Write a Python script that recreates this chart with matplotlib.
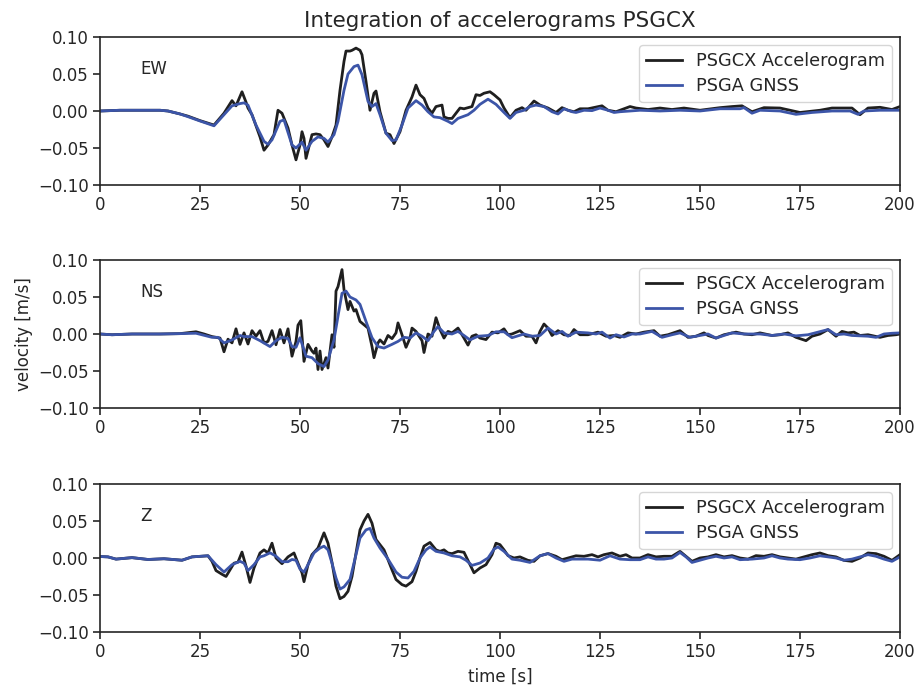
import matplotlib
matplotlib.use("Agg")
import matplotlib.pyplot as plt

# ---------------- data (velocity in m/s, time in s) ----------------
ew_acc_t = [0, 5, 10, 15, 17, 20, 22, 25, 28.5, 31, 33, 34, 35.5, 36.5, 37, 38, 40, 41, 42, 43.5,
            44.5, 45.5, 47, 48, 49, 50, 50.5, 51, 51.5, 53, 54, 55, 56, 57, 58, 59, 60, 61, 61.5,
            62.5, 63, 64, 65, 65.5, 66.5, 67.5, 68.5, 69, 70, 71.5, 72.5, 73.5, 75, 76.5, 78, 79,
            80, 81, 82, 83, 84, 85.5, 86, 87, 88, 89, 90, 91, 92, 93, 94, 95, 96, 97.5, 98.5, 100,
            101, 102.5, 104, 105.5, 106.5, 108.5, 110, 112, 114, 115.5, 117, 118.5, 120, 122,
            125.5, 127, 129, 131, 132.5, 134, 137, 140, 143, 146, 150, 155, 158, 160.5, 163, 166,
            170, 175, 180, 183, 188, 190, 192, 195, 198, 200]
ew_acc_v = [0.0, 0.001, 0.001, 0.001, 0.0, -0.004, -0.007, -0.013, -0.019, -0.003, 0.014, 0.007,
            0.026, 0.012, 0.004, -0.005, -0.035, -0.053, -0.046, -0.032, 0.001, -0.003, -0.023,
            -0.046, -0.066, -0.046, -0.028, -0.037, -0.064, -0.032, -0.031, -0.032, -0.039, -0.048,
            -0.035, -0.019, 0.028, 0.067, 0.081, 0.081, 0.082, 0.085, 0.082, 0.076, 0.040, 0.001,
            0.024, 0.027, -0.001, -0.030, -0.032, -0.044, -0.028, 0.001, 0.019, 0.035, 0.022,
            0.017, 0.004, -0.003, 0.006, 0.008, -0.008, -0.010, -0.010, -0.003, 0.004, 0.003,
            0.0045, 0.006, 0.022, 0.021, 0.024, 0.026, 0.022, 0.015, 0.004, -0.009, 0.001, 0.0045,
            0.001, 0.0135, 0.008, 0.004, -0.002, 0.0045, 0.001, -0.001, 0.003, 0.003, 0.007, 0.001,
            -0.001, 0.003, 0.006, 0.004, 0.002, 0.004, 0.002, 0.004, 0.001, 0.0045, 0.006, 0.007,
            -0.001, 0.0045, 0.004, -0.002, 0.001, 0.004, 0.004, -0.005, 0.004, 0.005, 0.002, 0.006]

ew_gnss_t = [0, 5, 10, 15, 17, 20, 22, 25, 28.5, 31, 33, 35, 36, 37, 39, 41, 42, 43, 45, 46, 48,
             49, 50.5, 51.5, 53, 54.5, 56, 57, 58.5, 59.5, 61, 62, 63.5, 64.5, 65.5, 67, 68, 69,
             70, 71.5, 73, 74, 75.5, 77, 79, 80.5, 82, 83.5, 85, 87, 88, 89.5, 92, 93.5, 95, 97,
             99, 101, 102.5, 104, 106, 107.5, 109, 111, 113, 114.5, 116, 118, 119, 121, 123, 125,
             127, 128.5, 130, 135, 140, 145, 150, 155, 160, 161, 163, 165, 170, 174, 178, 183,
             187.5, 189.5, 191, 195, 200]
ew_gnss_v = [0.0, 0.001, 0.001, 0.001, 0.0, -0.004, -0.0077, -0.0135, -0.020, -0.005, 0.007, 0.010,
             0.011, 0.008, -0.019, -0.041, -0.045, -0.039, -0.014, -0.012, -0.046, -0.050, -0.042,
             -0.053, -0.041, -0.035, -0.037, -0.042, -0.032, -0.014, 0.028, 0.050, 0.060, 0.062,
             0.049, 0.013, 0.006, 0.010, -0.005, -0.030, -0.040, -0.039, -0.019, 0.004, 0.014,
             0.008, -0.001, -0.008, -0.009, -0.014, -0.017, -0.010, -0.005, 0.001, 0.009, 0.016,
             0.009, -0.002, -0.010, -0.002, 0.001, 0.006, 0.008, 0.006, -0.001, -0.004, 0.003,
             -0.001, -0.002, 0.001, 0.0005, 0.004, 0.001, -0.002, -0.001, 0.001, 0.0, 0.001, 0.0,
             0.003, 0.003, 0.0045, -0.003, 0.001, 0.0, -0.0045, -0.002, 0.0, 0.0, -0.0045, 0.0,
             0.001, 0.001]

ns_acc_t = [0, 3, 8, 15, 20, 24, 26, 28, 30, 31, 32, 33, 34, 35, 36, 37, 38, 39, 40, 41, 42, 43,
            44, 45, 46, 47, 48, 49, 49.5, 50.2, 51, 52, 53, 53.5, 54, 54.5, 55, 55.5, 56.5, 57, 58,
            58.5, 59, 59.5, 60.5, 61, 62, 62.5, 63.5, 64, 65, 66, 67, 68, 68.5, 69.5, 70, 71, 72,
            73, 74, 74.5, 75.5, 76.5, 77.5, 78, 79, 80.5, 81, 82, 83, 84, 85, 86, 87, 88, 89.5,
            91, 92, 93, 94, 95, 96.5, 98, 99.5, 101, 102, 103, 105, 106.5, 108, 109, 110, 111,
            112, 113, 114.5, 116, 117.5, 118.5, 120, 122, 124.5, 126.5, 128.5, 130, 132, 134, 136,
            138.5, 140, 142, 145, 147, 149, 151, 152, 154, 156, 159, 161, 163, 165, 168, 170, 172,
            174, 176.5, 178, 180, 182, 184, 185.5, 187, 188.5, 190, 192, 195, 197, 199, 200]
ns_acc_v = [0.0, -0.001, 0.0, 0.0, 0.0005, 0.003, 0.0, -0.0035, -0.0055, -0.024, -0.007, -0.012,
            0.007, -0.014, 0.0015, -0.0135, 0.0045, -0.003, 0.0045, -0.012, -0.010, 0.0045,
            -0.0145, 0.006, -0.012, 0.007, -0.030, -0.010, 0.012, 0.018, -0.037, -0.014, -0.023,
            -0.026, -0.019, -0.048, -0.023, -0.048, -0.032, -0.046, -0.001, -0.018, 0.058, 0.064,
            0.087, 0.060, 0.033, 0.044, 0.031, 0.033, 0.017, 0.0125, 0.008, -0.017, -0.032,
            -0.012, -0.008, -0.0135, -0.002, -0.0063, 0.0015, 0.015, -0.001, -0.018, -0.0055,
            0.008, 0.0035, -0.009, -0.025, 0.0, -0.003, 0.022, 0.006, -0.0055, 0.0035, 0.0015,
            0.008, -0.0055, -0.015, -0.003, -0.001, -0.0055, -0.0075, 0.0025, 0.0015, 0.007,
            -0.001, 0.0, 0.0045, -0.003, -0.003, -0.012, 0.0035, 0.0135, 0.008, -0.002, 0.0045,
            -0.001, -0.002, 0.006, -0.001, -0.001, 0.0025, -0.003, -0.002, -0.0045, 0.0015, 0.0,
            0.0025, 0.0045, -0.003, -0.001, 0.0045, -0.0045, -0.003, 0.0015, -0.002, -0.0055,
            -0.001, 0.0025, 0.0, -0.001, 0.0015, -0.002, -0.001, 0.0015, -0.0045, -0.009, -0.003,
            0.0, 0.006, -0.003, 0.0035, 0.0015, 0.0025, -0.002, -0.001, -0.0045, -0.002, -0.001,
            0.0]

ns_gnss_t = [0, 3, 8, 15, 20, 24, 28, 29.5, 31, 33, 35, 36, 38, 40, 42.5, 44, 45.5, 47, 48, 49,
             50, 51.5, 53, 54.5, 56, 57, 58.5, 59.5, 60.5, 61.5, 62.5, 64, 65, 66.5, 68, 69.5, 71,
             73, 74.5, 76, 77.5, 79, 80.5, 82, 83.5, 84.5, 86, 88, 89.5, 91, 92.5, 94.5, 97, 99,
             101, 103, 106, 108, 110, 112, 114, 115.5, 117, 119, 122, 124, 125.5, 127.5, 129, 131,
             133, 135, 138, 140.5, 143, 145, 147.5, 150, 152, 154, 156, 158, 161, 165, 168, 171,
             174, 177, 179.5, 182, 184, 186, 188, 190, 192, 194, 196, 198, 200]
ns_gnss_v = [0.0, -0.001, 0.0, 0.0, 0.0005, 0.001, -0.0045, -0.0045, -0.012, -0.008, -0.002,
             -0.0035, -0.0035, -0.009, -0.017, -0.009, -0.0045, -0.006, -0.017, -0.018, -0.005,
             -0.030, -0.032, -0.040, -0.044, -0.035, -0.008, 0.024, 0.055, 0.058, 0.050, 0.046,
             0.040, 0.017, -0.005, -0.017, -0.019, -0.014, -0.010, -0.0045, -0.0055, 0.0015,
             -0.003, -0.009, 0.0035, 0.010, 0.0015, 0.0, 0.0035, -0.002, -0.008, -0.003, -0.002,
             0.003, 0.003, -0.005, 0.0, -0.003, -0.002, 0.008, 0.0, 0.0035, -0.003, 0.0025, 0.0015,
             0.0, 0.0025, -0.0055, -0.001, -0.004, 0.0, 0.0, 0.0035, -0.0045, -0.001, 0.0015,
             -0.0045, -0.002, 0.0, -0.0055, -0.002, 0.0015, 0.0, 0.0, -0.002, 0.0, -0.0025, -0.001,
             0.0025, 0.006, -0.001, 0.0, -0.002, -0.0025, -0.003, -0.0045, 0.0, 0.001, 0.0015]

z_acc_t = [0, 2, 4, 8, 12, 16, 20.5, 23, 27, 28, 29, 30.5, 31.5, 33.5, 34.5, 35.5, 36.5, 37.5, 38.5,
           40, 41, 42, 43, 44, 45.5, 47, 48.5, 49.5, 50.5, 51, 52, 53, 54.5, 55.5, 56, 57, 58, 59,
           60, 61, 62, 63, 64, 65, 66, 67, 68, 69, 70, 71, 72, 73, 74, 75.5, 76.5, 78, 79, 80, 81,
           82.5, 84, 85, 86, 87, 88, 89.5, 91, 92.5, 93.5, 95, 96.5, 98, 99, 100, 101, 102, 103.5,
           105, 107, 108.5, 110, 112, 114, 115.5, 117, 119, 121, 123, 124.5, 126, 128, 130, 131.5,
           133, 135, 137, 139, 141, 143, 145, 146.5, 148, 150, 152, 154, 156, 158, 160, 162, 164,
           166, 168, 170, 172, 174, 176, 178, 180, 182, 184, 186, 188, 190, 192, 194, 196, 198, 200]
z_acc_v = [0.002, 0.0015, -0.0015, 0.0005, -0.002, -0.001, -0.003, 0.0015, 0.003, -0.0045, -0.017,
           -0.022, -0.025, -0.007, -0.0055, 0.008, -0.011, -0.033, -0.0135, 0.0068, 0.011, 0.0068,
           0.020, 0.0, -0.0077, 0.0015, 0.0068, -0.007, -0.020, -0.032, -0.009, 0.0045, 0.0135,
           0.027, 0.034, 0.020, -0.006, -0.038, -0.055, -0.052, -0.045, -0.025, 0.0068, 0.038,
           0.050, 0.059, 0.047, 0.025, 0.018, 0.011, -0.0023, -0.016, -0.029, -0.036, -0.038,
           -0.032, -0.018, 0.0, 0.016, 0.021, 0.011, 0.009, 0.011, 0.0068, 0.0059, 0.009, 0.0077,
           -0.009, -0.020, -0.0135, -0.009, 0.0045, 0.020, 0.018, 0.011, 0.0032, 0.0, 0.0015,
           -0.0032, -0.0045, 0.003, 0.006, 0.0023, -0.0023, 0.0, 0.003, 0.0023, 0.0045, 0.0015,
           0.0045, 0.0068, 0.0023, 0.0045, 0.0, 0.0, 0.0045, 0.0015, 0.0023, 0.0023, 0.009,
           0.0023, -0.0045, 0.0, 0.0015, 0.0045, 0.0015, 0.0032, 0.0, -0.0015, 0.0032, 0.0023,
           0.0045, 0.0015, 0.0, -0.0015, 0.0015, 0.0045, 0.0068, 0.0032, 0.0015, -0.0032, -0.0045,
           0.0, 0.0068, 0.0059, 0.0023, -0.0032, 0.0045]

z_gnss_t = [0, 2, 4, 8, 12, 16, 20.5, 23, 27, 29, 31, 33, 35, 36, 37, 38.5, 40, 41, 42.5, 44, 45.5,
            47, 48, 49, 50, 51, 52, 53.5, 55, 56, 57, 58, 59, 60, 61, 62.5, 64, 65, 66.5, 67.5,
            68.5, 70, 72, 74, 75.5, 77, 78.5, 80, 81.5, 82.5, 84, 86, 88, 90, 91.5, 93, 95, 97,
            98.5, 99.5, 101, 103, 105, 107.5, 110, 112, 114, 116, 118, 120, 122, 125, 127.5, 130,
            132.5, 135, 137, 139, 141, 143, 145, 146.5, 148, 150, 152, 154, 156, 158, 160, 163,
            166, 168, 170, 172, 175, 177.5, 180, 182, 184, 186, 188, 190, 192, 194, 196, 198, 200]
z_gnss_v = [0.002, 0.0015, -0.0015, 0.0005, -0.002, -0.001, -0.003, 0.0015, 0.003, -0.009, -0.019,
            -0.009, -0.0045, -0.007, -0.017, -0.009, 0.0015, 0.003, 0.007, 0.0025, -0.005, -0.005,
            -0.002, -0.003, -0.015, -0.019, -0.009, 0.007, 0.0135, 0.016, 0.011, -0.007, -0.027,
            -0.042, -0.039, -0.029, 0.0045, 0.027, 0.038, 0.040, 0.027, 0.0135, -0.0015, -0.019,
            -0.026, -0.027, -0.018, 0.0, 0.011, 0.015, 0.009, 0.0068, 0.003, 0.0015, -0.003,
            -0.010, -0.0068, 0.0, 0.012, 0.015, 0.009, -0.0015, -0.003, -0.006, 0.003, 0.006, 0.0,
            -0.0045, -0.0015, -0.0015, -0.0015, -0.003, 0.003, -0.0015, -0.0023, -0.0023, 0.0015,
            -0.0015, -0.0015, 0.0, 0.0075, 0.0015, -0.006, -0.003, 0.0, 0.0023, 0.0, 0.0015,
            -0.0023, -0.0015, 0.0, 0.003, 0.0, -0.0015, -0.0023, 0.0, 0.003, 0.0015, 0.0, -0.003,
            -0.0015, 0.0015, 0.0045, 0.0023, -0.0015, -0.0045, 0.0015]

components = ["EW", "NS", "Z"]
acc_label = "PSGCX Accelerogram"
gnss_label = "PSGA GNSS"
title = "Integration of accelerograms PSGCX"
xticks = [0, 25, 50, 75, 100, 125, 150, 175, 200]
yticks = [-0.10, -0.05, 0.00, 0.05, 0.10]

series = [
    (ew_acc_t, ew_acc_v, ew_gnss_t, ew_gnss_v),
    (ns_acc_t, ns_acc_v, ns_gnss_t, ns_gnss_v),
    (z_acc_t, z_acc_v, z_gnss_t, z_gnss_v),
]

# ---------------- style ----------------
plt.rcParams["font.family"] = ["DejaVu Sans"]
text_color = "#262626"
plt.rcParams["text.color"] = text_color
plt.rcParams["axes.labelcolor"] = text_color
plt.rcParams["xtick.color"] = text_color
plt.rcParams["ytick.color"] = text_color

fig = plt.figure(figsize=(9.21, 6.87), dpi=100)
W, H = 921, 687
left, right = 100 / W, 900 / W
tops = [37, 260, 484]
ph = 148

black = "#1f1f1f"
blue = "#3c55a8"

axes = []
for i, comp in enumerate(components):
    top = tops[i]
    ax = fig.add_axes([left, 1 - (top + ph) / H, right - left, ph / H])
    at, av, gt, gv = series[i]
    ax.plot(at, av, color=black, lw=2.0, label=acc_label)
    ax.plot(gt, gv, color=blue, lw=2.0, label=gnss_label)
    ax.set_xlim(0, 200)
    ax.set_ylim(-0.10, 0.10)
    ax.set_xticks(xticks)
    ax.set_yticks(yticks)
    ax.set_yticklabels([f"{v:.2f}".replace("-", "\u2212") for v in yticks])
    ax.tick_params(axis="both", which="major", labelsize=12, direction="out",
                   length=5, width=1.2, color=text_color, pad=3)
    for s in ax.spines.values():
        s.set_color(text_color)
        s.set_linewidth(1.2)
    ax.text(10, 0.05, comp, fontsize=12, color=text_color)
    leg = ax.legend(loc="upper right", fontsize=12.8, frameon=True, fancybox=True,
                    handlelength=2.0, borderpad=0.4, labelspacing=0.4,
                    borderaxespad=0.45, handletextpad=0.8)
    leg.get_frame().set_edgecolor("#cccccc")
    leg.get_frame().set_linewidth(1.0)
    axes.append(ax)

axes[0].set_title(title, fontsize=15.5, color=text_color, pad=7)
axes[1].set_ylabel("velocity [m/s]", fontsize=12)
axes[2].set_xlabel("time [s]", fontsize=12, labelpad=5)

fig.savefig("out.png", dpi=100)
